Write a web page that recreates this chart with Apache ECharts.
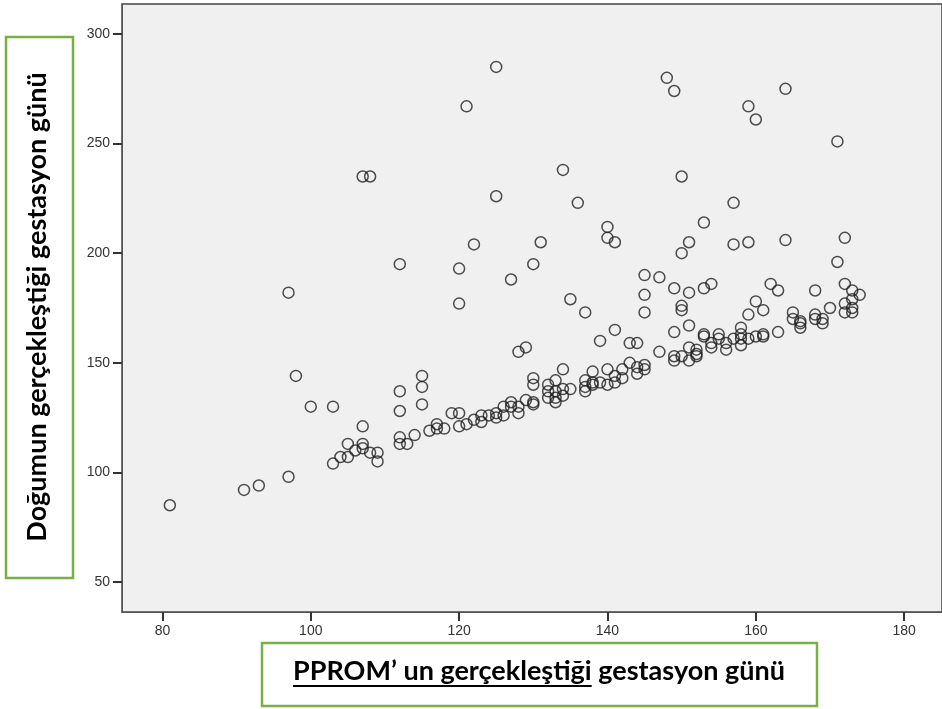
<!DOCTYPE html>
<html>
<head>
<meta charset="utf-8">
<script src="https://cdn.jsdelivr.net/npm/echarts@6/dist/echarts.min.js"></script>
<style>
  html, body { margin: 0; padding: 0; background: #fff; }
  #chart { width: 942px; height: 709px; }
</style>
</head>
<body>
<div id="chart"></div>
<script>
// PPROM day (x) and delivery day (y)
var pprom = [
  81, 91, 93, 97, 97, 98, 100, 103,
  107, 108, 112, 120, 120, 121, 122, 125, 125, 127, 130, 131, 134, 135, 136, 137, 140, 140, 141, 141, 139, 128, 129, 134, 130, 130,
  115, 115, 115, 112, 112, 107,
  148, 149, 164, 159, 160, 171, 150, 157, 153, 151, 157, 159, 164, 172, 150, 171,
  145, 147, 145, 145, 149, 151, 153, 154, 150, 150, 162, 163, 168, 160, 161, 159,
  172, 173, 174, 173, 172, 173, 173, 172, 170,
  165, 165, 166, 166, 166, 168, 168, 169, 169,
  143, 144, 149, 151, 147,
  151, 152, 152, 152, 151, 150, 149, 149,
  153, 153, 154, 154, 155, 155, 156, 156,
  157, 158, 158, 158, 158, 159, 160, 161, 161, 163,
  140, 140, 141, 141, 142, 142, 143, 144, 144, 145, 145, 138,
  103, 104, 105, 109, 109, 108, 106, 105, 107, 107,
  112, 112, 113, 114,
  116, 117, 117, 118,
  119, 120, 120, 121,
  122, 123, 123,
  124, 125, 125, 126, 126, 127, 127, 128, 128, 129,
  130, 130,
  132, 132, 132, 133, 133, 133, 133, 134, 134, 135,
  137, 137, 137, 138, 138, 139
];
var delivery = [
  85, 92, 94, 98, 182, 144, 130, 130,
  235, 235, 195, 193, 177, 267, 204, 285, 226, 188, 195, 205, 238, 179, 223, 173, 212, 207, 205, 165, 160, 155, 157, 147, 143, 140,
  144, 139, 131, 137, 128, 121,
  280, 274, 275, 267, 261, 251, 235, 223, 214, 205, 204, 205, 206, 207, 200, 196,
  190, 189, 181, 173, 184, 182, 184, 186, 176, 174, 186, 183, 183, 178, 174, 172,
  186, 183, 181, 179, 177, 175, 173, 173, 175,
  173, 170, 169, 168, 166, 172, 170, 170, 168,
  159, 159, 164, 167, 155,
  157, 156, 154, 153, 151, 153, 153, 151,
  163, 162, 159, 157, 163, 161, 159, 156,
  161, 166, 163, 161, 158, 161, 162, 163, 162, 164,
  147, 140, 144, 141, 147, 143, 150, 148, 145, 149, 147, 141,
  104, 107, 107, 109, 105, 109, 110, 113, 113, 111,
  116, 113, 113, 117,
  119, 122, 120, 120,
  127, 127, 121, 122,
  124, 123, 126,
  126, 125, 127, 126, 130, 132, 130, 130, 127, 133,
  132, 131,
  140, 137, 134, 142, 137, 134, 132, 138, 135, 138,
  142, 139, 137, 146, 140, 141
];
var xTicks = [80, 100, 120, 140, 160, 180];
var yTicks = [50, 100, 150, 200, 250, 300];

var xTitle1 = 'PPROM\u2019 un gerçekleştiği';
var xTitle2 = ' gestasyon günü';
var yTitle = 'Doğumun gerçekleştiği gestasyon günü';

var points = pprom.map(function (v, i) { return [v, delivery[i]]; });

var titleFont = 'bold 27px Lato';
var ctx = document.createElement('canvas').getContext('2d');
ctx.font = titleFont;
var w1 = ctx.measureText(xTitle1).width;
var wAll = ctx.measureText(xTitle1 + xTitle2).width;
var xTitleLeft = 539 - wAll / 2;

var green = '#77b145';

var chart = echarts.init(document.getElementById('chart'));
chart.setOption({
    animation: false,
    grid: {
        left: 122, top: 4, right: -5, bottom: 97,
        show: true,
        backgroundColor: '#f0f0f0',
        borderColor: '#444',
        borderWidth: 1.5
    },
    xAxis: {
        type: 'value',
        min: 74.55, max: 185.1,
        splitLine: { show: false },
        axisLine: { show: true, onZero: false },
        axisTick: { show: true, length: 9, customValues: xTicks, lineStyle: { color: '#333', width: 2 } },
        axisLabel: { customValues: xTicks, margin: 12, color: '#333', fontSize: 14, fontFamily: 'Liberation Sans' }
    },
    yAxis: {
        type: 'value',
        min: 36.3, max: 313.7,
        splitLine: { show: false },
        axisLine: { show: true, onZero: false },
        axisTick: { show: true, length: 9, customValues: yTicks, lineStyle: { color: '#333', width: 2 } },
        axisLabel: { customValues: yTicks, margin: 12, color: '#333', fontSize: 14, fontFamily: 'Liberation Sans' }
    },
    series: [
        {
            type: 'scatter',
            data: points,
            symbol: 'circle',
            symbolSize: 11,
            itemStyle: { color: 'rgba(0,0,0,0)', borderColor: '#222', borderWidth: 1.5 },
            emphasis: { disabled: true }
        }
    ],
    graphic: [
        {
            type: 'rect', shape: { x: 6, y: 37, width: 67, height: 541 },
            style: { fill: '#fff', stroke: green, lineWidth: 2.5 }
        },
        {
            type: 'text', x: 37, y: 307, rotation: Math.PI / 2,
            style: { text: yTitle, font: titleFont, fill: '#000', align: 'center', verticalAlign: 'middle' }
        },
        {
            type: 'rect', shape: { x: 262, y: 643, width: 555, height: 63 },
            style: { fill: '#fff', stroke: green, lineWidth: 2.5 }
        },
        {
            type: 'text', x: xTitleLeft, y: 671,
            style: { text: xTitle1 + xTitle2, font: titleFont, fill: '#000', align: 'left', verticalAlign: 'middle' }
        },
        {
            type: 'line', shape: { x1: xTitleLeft, y1: 686, x2: xTitleLeft + w1, y2: 686 },
            style: { stroke: '#000', lineWidth: 2 }
        }
    ]
});
</script>
</body>
</html>
